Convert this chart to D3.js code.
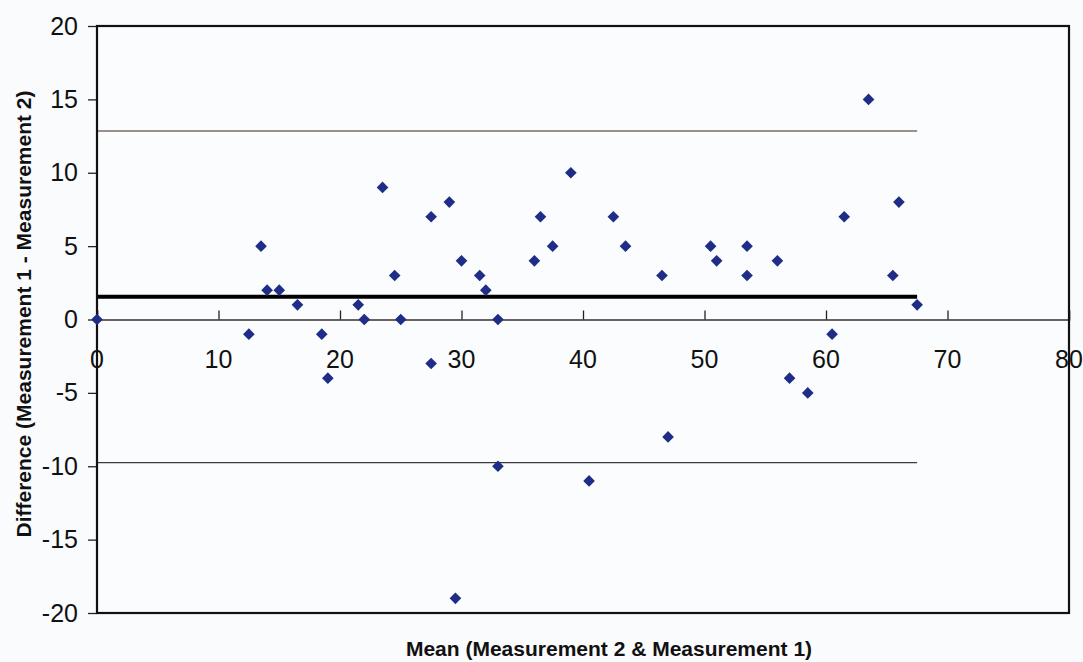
<!DOCTYPE html>
<html>
<head>
<meta charset="utf-8">
<script src="https://cdn.jsdelivr.net/npm/d3@7"></script>
<style>
  html, body { margin: 0; padding: 0; background: #fafbfd; }
  svg { display: block; font-family: "Liberation Sans", Arial, sans-serif; }
</style>
</head>
<body>
<svg id="chart" width="1083" height="662"></svg>
<script>

// Mean of the two measurements
const means = [0, 12.5, 13.5, 14, 15, 16.5, 18.5, 19, 21.5, 22, 23.5, 24.5, 25,
	27.5, 27.5, 29, 29.5, 30, 31.5, 32, 33, 33, 36, 36.5, 37.5, 39, 40.5, 42.5,
	43.5, 46.5, 47, 50.5, 51, 53.5, 53.5, 56, 57, 58.5, 60.5, 61.5, 63.5, 65.5,
	66, 67.5];

// Difference (measurement 1 - measurement 2)
const diffs = [0, -1, 5, 2, 2, 1, -1, -4, 1, 0, 9, 3, 0,
	7, -3, 8, -19, 4, 3, 2, 0, -10, 4, 7, 5, 10, -11, 7,
	5, 3, -8, 5, 4, 5, 3, 4, -4, -5, -1, 7, 15, 3,
	8, 1];

// Bias and limits of agreement
const meanDiff = 1.55;
const upperLimit = 12.85;
const lowerLimit = -9.75;
const lineEnd = 67.5;

const xTicks = [0, 10, 20, 30, 40, 50, 60, 70, 80];
const yTicks = [-20, -15, -10, -5, 0, 5, 10, 15, 20];

const svg = d3.select("#chart");

const plotLeft = 97, plotRight = 1069, plotTop = 26, plotBottom = 613;

const xScale = d3.scaleLinear().domain([0, 80]).range([plotLeft, plotRight]);
const yScale = d3.scaleLinear().domain([-20, 20]).range([plotBottom, plotTop]);

// plot background
svg.append("rect")
	.attr("x", plotLeft)
	.attr("y", plotTop)
	.attr("width", plotRight - plotLeft)
	.attr("height", plotBottom - plotTop)
	.attr("fill", "#fbfcfe");

// limit lines
const hlines = [
	{ v: upperLimit, color: "#7d6d68", w: 1.6 },
	{ v: lowerLimit, color: "#3a3a3a", w: 1.3 },
	{ v: meanDiff, color: "#000", w: 4 }
];
svg.selectAll(".hline")
	.data(hlines)
	.enter()
	.append("line")
		.attr("class", "hline")
		.attr("x1", xScale(0))
		.attr("x2", xScale(lineEnd))
		.attr("y1", d => yScale(d.v))
		.attr("y2", d => yScale(d.v))
		.attr("stroke", d => d.color)
		.attr("stroke-width", d => d.w);

// X axis along zero, ticks pointing up
const xAxis = d3.axisTop(xScale)
	.tickValues(xTicks)
	.tickSize(9)
	.tickFormat("");

const gx = svg.append("g")
	.attr("transform", "translate(0," + yScale(0) + ")")
	.call(xAxis);
gx.select(".domain").attr("stroke", "#3b2f2c").attr("stroke-width", 1.5);
gx.selectAll(".tick line").attr("stroke", "#222").attr("stroke-width", 1.3);

// x tick labels below the zero line
svg.selectAll(".xlabel")
	.data(xTicks)
	.enter()
	.append("text")
		.attr("class", "xlabel")
		.attr("x", d => xScale(d))
		.attr("y", yScale(0) + 48)
		.attr("text-anchor", "middle")
		.attr("font-size", 25)
		.attr("fill", "#111")
		.text(d => d);

// Y axis (plain hyphen for negatives)
const yAxis = d3.axisLeft(yScale)
	.tickValues(yTicks)
	.tickSize(9)
	.tickPadding(10)
	.tickFormat(d => String(d));

const gy = svg.append("g")
	.attr("transform", "translate(" + plotLeft + ",0)")
	.call(yAxis);
gy.select(".domain").remove();
gy.selectAll(".tick line").attr("stroke", "#222").attr("stroke-width", 1.3);
gy.selectAll(".tick text")
	.attr("font-size", 25)
	.attr("font-family", "Liberation Sans, Arial, sans-serif")
	.attr("fill", "#111");

// frame
svg.append("rect")
	.attr("x", plotLeft)
	.attr("y", plotTop)
	.attr("width", plotRight - plotLeft)
	.attr("height", plotBottom - plotTop)
	.attr("fill", "none")
	.attr("stroke", "#111")
	.attr("stroke-width", 2.2);

// points
const diamond = d3.symbol().type(d3.symbolSquare).size(68);
svg.selectAll(".pt")
	.data(means.map((m, i) => ({ x: m, y: diffs[i] })))
	.enter()
	.append("path")
		.attr("class", "pt")
		.attr("d", diamond)
		.attr("transform", d => "translate(" + xScale(d.x) + "," + yScale(d.y) + ") rotate(45)")
		.attr("fill", "#1f2d86");

// axis titles
svg.append("text")
	.attr("x", 609)
	.attr("y", 656)
	.attr("text-anchor", "middle")
	.attr("font-size", 21)
	.attr("font-weight", "bold")
	.attr("fill", "#111")
	.text("Mean (Measurement 2 & Measurement 1)");

svg.append("text")
	.attr("transform", "translate(31," + 314 + ") rotate(-90)")
	.attr("text-anchor", "middle")
	.attr("font-size", 21)
	.attr("font-weight", "bold")
	.attr("fill", "#111")
	.text("Difference (Measurement 1 - Measurement 2)");

</script>
</body>
</html>
